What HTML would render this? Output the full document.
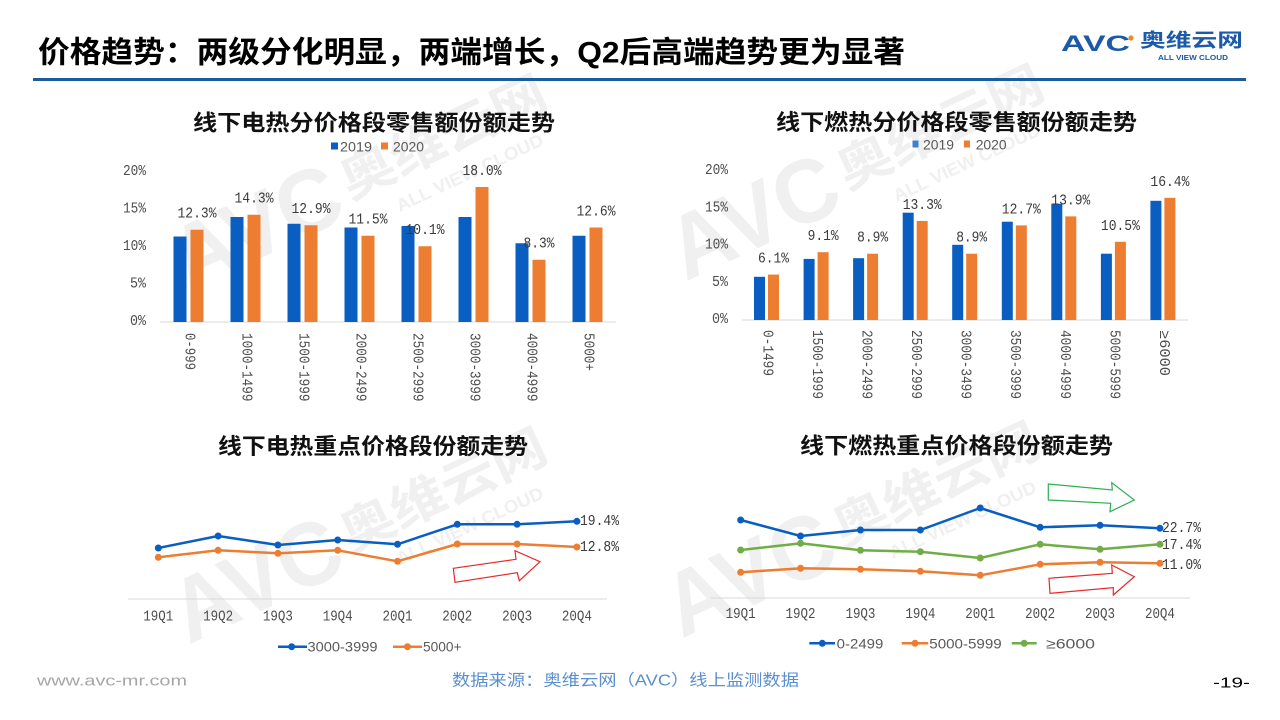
<!DOCTYPE html>
<html>
<head>
<meta charset="utf-8">
<style>
html,body{margin:0;padding:0;background:#fff;}
body{width:1280px;height:720px;overflow:hidden;}
svg{display:block;}
.cjk{font-family:"Liberation Sans","Noto Sans CJK SC",sans-serif;}
.mono{font-family:"Liberation Mono","DejaVu Sans Mono",monospace;}
.sans{font-family:"Liberation Sans","DejaVu Sans",sans-serif;}
</style>
</head>
<body>
<svg width="1280" height="720" viewBox="0 0 1280 720" xmlns="http://www.w3.org/2000/svg">
<rect width="1280" height="720" fill="#fff"/>

<!-- Watermarks (behind) -->
<g opacity="0.32" fill="#cfcfcf" font-weight="bold">
<g transform="translate(350,200) rotate(-25)">
<text class="sans" x="-185" y="15" font-size="90" textLength="178" lengthAdjust="spacingAndGlyphs">AVC</text>
<text class="cjk" x="0" y="0" font-size="50" textLength="222" lengthAdjust="spacingAndGlyphs">奥维云网</text>
<text class="sans" x="40" y="32" font-size="18" textLength="160" lengthAdjust="spacingAndGlyphs">ALL VIEW CLOUD</text>
</g>
<g transform="translate(847,190) rotate(-25)">
<text class="sans" x="-185" y="15" font-size="90" textLength="178" lengthAdjust="spacingAndGlyphs">AVC</text>
<text class="cjk" x="0" y="0" font-size="50" textLength="222" lengthAdjust="spacingAndGlyphs">奥维云网</text>
<text class="sans" x="40" y="32" font-size="18" textLength="160" lengthAdjust="spacingAndGlyphs">ALL VIEW CLOUD</text>
</g>
<g transform="translate(350,553) rotate(-25)">
<text class="sans" x="-185" y="15" font-size="90" textLength="178" lengthAdjust="spacingAndGlyphs">AVC</text>
<text class="cjk" x="0" y="0" font-size="50" textLength="222" lengthAdjust="spacingAndGlyphs">奥维云网</text>
<text class="sans" x="40" y="32" font-size="18" textLength="160" lengthAdjust="spacingAndGlyphs">ALL VIEW CLOUD</text>
</g>
<g transform="translate(843,547) rotate(-25)">
<text class="sans" x="-185" y="15" font-size="90" textLength="178" lengthAdjust="spacingAndGlyphs">AVC</text>
<text class="cjk" x="0" y="0" font-size="50" textLength="222" lengthAdjust="spacingAndGlyphs">奥维云网</text>
<text class="sans" x="40" y="32" font-size="18" textLength="160" lengthAdjust="spacingAndGlyphs">ALL VIEW CLOUD</text>
</g>
</g>

<!-- Header -->
<text class="cjk" x="38" y="53" font-size="30" font-weight="bold" fill="#000" dominant-baseline="central" textLength="867" lengthAdjust="spacingAndGlyphs">价格趋势：两级分化明显，两端增长，Q2后高端趋势更为显著</text>
<rect x="33" y="78" width="1213" height="3" fill="#1d5b9f"/>
<!-- Logo -->
<text class="sans" x="1061" y="51" font-size="22" font-weight="bold" fill="#1a5aa8" textLength="69" lengthAdjust="spacingAndGlyphs">AVC</text>
<circle cx="1131" cy="38" r="2.6" fill="#f08a24"/>
<text class="cjk" x="1140" y="41" font-size="19" font-weight="bold" fill="#1a5aa8" dominant-baseline="central" textLength="103" lengthAdjust="spacingAndGlyphs">奥维云网</text>
<text class="sans" x="1158" y="58.5" font-size="7" font-weight="bold" fill="#1a5aa8" dominant-baseline="central" textLength="70" lengthAdjust="spacingAndGlyphs">ALL VIEW CLOUD</text>

<!-- Top-left chart -->
<text class="cjk" x="374" y="123" font-size="22" font-weight="bold" fill="#111" text-anchor="middle" dominant-baseline="central" textLength="362" lengthAdjust="spacingAndGlyphs">线下电热分价格段零售额份额走势</text>
<rect x="331" y="142.5" width="7" height="7" fill="#0a5ec2"/>
<text class="sans" x="340" y="146.5" font-size="14" fill="#595959" dominant-baseline="central" textLength="32" lengthAdjust="spacingAndGlyphs">2019</text>
<rect x="381" y="142.5" width="7" height="7" fill="#ed7d31"/>
<text class="sans" x="393" y="146.5" font-size="14" fill="#595959" dominant-baseline="central" textLength="31" lengthAdjust="spacingAndGlyphs">2020</text>
<g class="mono" font-size="14.5" fill="#4d4d4d" text-anchor="end" dominant-baseline="central">
<text x="146" y="322" textLength="16" lengthAdjust="spacingAndGlyphs">0%</text>
<text x="146" y="284.5" textLength="16" lengthAdjust="spacingAndGlyphs">5%</text>
<text x="146" y="247" textLength="23" lengthAdjust="spacingAndGlyphs">10%</text>
<text x="146" y="209.5" textLength="23" lengthAdjust="spacingAndGlyphs">15%</text>
<text x="146" y="172" textLength="23" lengthAdjust="spacingAndGlyphs">20%</text>
</g>
<line x1="160" y1="322" x2="616" y2="322" stroke="#d9d9d9" stroke-width="1"/>
<g>
<rect x="173.5" y="236.5" width="13" height="85.5" fill="#0a5ec2"/>
<rect x="190.5" y="229.75" width="13" height="92.25" fill="#ed7d31"/>
<rect x="230.5" y="217" width="13" height="105" fill="#0a5ec2"/>
<rect x="247.5" y="214.75" width="13" height="107.25" fill="#ed7d31"/>
<rect x="287.5" y="223.75" width="13" height="98.25" fill="#0a5ec2"/>
<rect x="304.5" y="225.25" width="13" height="96.75" fill="#ed7d31"/>
<rect x="344.5" y="227.5" width="13" height="94.5" fill="#0a5ec2"/>
<rect x="361.5" y="235.75" width="13" height="86.25" fill="#ed7d31"/>
<rect x="401.5" y="226" width="13" height="96" fill="#0a5ec2"/>
<rect x="418.5" y="246.25" width="13" height="75.75" fill="#ed7d31"/>
<rect x="458.5" y="217" width="13" height="105" fill="#0a5ec2"/>
<rect x="475.5" y="187" width="13" height="135" fill="#ed7d31"/>
<rect x="515.5" y="243.25" width="13" height="78.75" fill="#0a5ec2"/>
<rect x="532.5" y="259.75" width="13" height="62.25" fill="#ed7d31"/>
<rect x="572.5" y="235.75" width="13" height="86.25" fill="#0a5ec2"/>
<rect x="589.5" y="227.5" width="13" height="94.5" fill="#ed7d31"/>
</g>
<g class="mono" font-size="15" fill="#3a3a3a" text-anchor="middle" dominant-baseline="central">
<text x="197" y="214.2" textLength="39" lengthAdjust="spacingAndGlyphs">12.3%</text>
<text x="254" y="199.2" textLength="39" lengthAdjust="spacingAndGlyphs">14.3%</text>
<text x="311" y="209.7" textLength="39" lengthAdjust="spacingAndGlyphs">12.9%</text>
<text x="368" y="220.2" textLength="39" lengthAdjust="spacingAndGlyphs">11.5%</text>
<text x="425" y="230.7" textLength="39" lengthAdjust="spacingAndGlyphs">10.1%</text>
<text x="482" y="171.5" textLength="39" lengthAdjust="spacingAndGlyphs">18.0%</text>
<text x="539" y="244.2" textLength="31" lengthAdjust="spacingAndGlyphs">8.3%</text>
<text x="596" y="212" textLength="39" lengthAdjust="spacingAndGlyphs">12.6%</text>
</g>
<g class="mono" font-size="14.5" fill="#4d4d4d" dominant-baseline="central">
<text transform="translate(188.5,333) rotate(90)" textLength="37" lengthAdjust="spacingAndGlyphs">0-999</text>
<text transform="translate(245.5,333) rotate(90)" textLength="68.5" lengthAdjust="spacingAndGlyphs">1000-1499</text>
<text transform="translate(302.5,333) rotate(90)" textLength="68.5" lengthAdjust="spacingAndGlyphs">1500-1999</text>
<text transform="translate(359.5,333) rotate(90)" textLength="68.5" lengthAdjust="spacingAndGlyphs">2000-2499</text>
<text transform="translate(416.5,333) rotate(90)" textLength="68.5" lengthAdjust="spacingAndGlyphs">2500-2999</text>
<text transform="translate(473.5,333) rotate(90)" textLength="68.5" lengthAdjust="spacingAndGlyphs">3000-3999</text>
<text transform="translate(530.5,333) rotate(90)" textLength="68.5" lengthAdjust="spacingAndGlyphs">4000-4999</text>
<text transform="translate(587.5,333) rotate(90)" textLength="38" lengthAdjust="spacingAndGlyphs">5000+</text>
</g>

<!-- Top-right chart -->
<text class="cjk" x="956.5" y="122.7" font-size="22" font-weight="bold" fill="#111" text-anchor="middle" dominant-baseline="central" textLength="361" lengthAdjust="spacingAndGlyphs">线下燃热分价格段零售额份额走势</text>
<rect x="912.5" y="140.5" width="6" height="7" fill="#3f7fd0"/>
<text class="sans" x="923" y="144.3" font-size="14" fill="#595959" dominant-baseline="central" textLength="31" lengthAdjust="spacingAndGlyphs">2019</text>
<rect x="964" y="140.5" width="6" height="7" fill="#ed7d31"/>
<text class="sans" x="975.7" y="144.3" font-size="14" fill="#595959" dominant-baseline="central" textLength="31" lengthAdjust="spacingAndGlyphs">2020</text>
<g class="mono" font-size="14.5" fill="#4d4d4d" text-anchor="end" dominant-baseline="central">
<text x="728" y="320" textLength="16" lengthAdjust="spacingAndGlyphs">0%</text>
<text x="728" y="282.75" textLength="16" lengthAdjust="spacingAndGlyphs">5%</text>
<text x="728" y="245.5" textLength="23" lengthAdjust="spacingAndGlyphs">10%</text>
<text x="728" y="208.25" textLength="23" lengthAdjust="spacingAndGlyphs">15%</text>
<text x="728" y="171" textLength="23" lengthAdjust="spacingAndGlyphs">20%</text>
</g>
<line x1="742" y1="320" x2="1188" y2="320" stroke="#d9d9d9" stroke-width="1"/>
<g>
<rect x="754" y="276.8" width="11" height="43.2" fill="#0a5ec2"/>
<rect x="768" y="274.6" width="11" height="45.4" fill="#ed7d31"/>
<rect x="803.6" y="258.9" width="11" height="61.1" fill="#0a5ec2"/>
<rect x="817.6" y="252.2" width="11" height="67.8" fill="#ed7d31"/>
<rect x="853.1" y="258.2" width="11" height="61.8" fill="#0a5ec2"/>
<rect x="867.1" y="253.7" width="11" height="66.3" fill="#ed7d31"/>
<rect x="902.7" y="212.7" width="11" height="107.3" fill="#0a5ec2"/>
<rect x="916.7" y="220.9" width="11" height="99.1" fill="#ed7d31"/>
<rect x="952.2" y="244.8" width="11" height="75.2" fill="#0a5ec2"/>
<rect x="966.2" y="253.7" width="11" height="66.3" fill="#ed7d31"/>
<rect x="1001.8" y="221.7" width="11" height="98.3" fill="#0a5ec2"/>
<rect x="1015.8" y="225.4" width="11" height="94.6" fill="#ed7d31"/>
<rect x="1051.3" y="203.8" width="11" height="116.2" fill="#0a5ec2"/>
<rect x="1065.3" y="216.4" width="11" height="103.6" fill="#ed7d31"/>
<rect x="1100.9" y="253.7" width="11" height="66.3" fill="#0a5ec2"/>
<rect x="1114.9" y="241.8" width="11" height="78.2" fill="#ed7d31"/>
<rect x="1150.4" y="200.8" width="11" height="119.2" fill="#0a5ec2"/>
<rect x="1164.4" y="197.8" width="11" height="122.2" fill="#ed7d31"/>
</g>
<g class="mono" font-size="15" fill="#3a3a3a" text-anchor="middle" dominant-baseline="central">
<text x="773.5" y="259.1" textLength="31" lengthAdjust="spacingAndGlyphs">6.1%</text>
<text x="823.1" y="236.7" textLength="31" lengthAdjust="spacingAndGlyphs">9.1%</text>
<text x="872.6" y="238.2" textLength="31" lengthAdjust="spacingAndGlyphs">8.9%</text>
<text x="922.2" y="205.4" textLength="39" lengthAdjust="spacingAndGlyphs">13.3%</text>
<text x="971.7" y="238.2" textLength="31" lengthAdjust="spacingAndGlyphs">8.9%</text>
<text x="1021.3" y="209.9" textLength="39" lengthAdjust="spacingAndGlyphs">12.7%</text>
<text x="1070.8" y="200.9" textLength="39" lengthAdjust="spacingAndGlyphs">13.9%</text>
<text x="1120.4" y="226.3" textLength="39" lengthAdjust="spacingAndGlyphs">10.5%</text>
<text x="1169.9" y="182.3" textLength="39" lengthAdjust="spacingAndGlyphs">16.4%</text>
</g>
<g class="mono" font-size="14.5" fill="#4d4d4d" dominant-baseline="central">
<text transform="translate(766.5,330) rotate(90)" textLength="46" lengthAdjust="spacingAndGlyphs">0-1499</text>
<text transform="translate(816,330) rotate(90)" textLength="69" lengthAdjust="spacingAndGlyphs">1500-1999</text>
<text transform="translate(865.6,330) rotate(90)" textLength="69" lengthAdjust="spacingAndGlyphs">2000-2499</text>
<text transform="translate(915.1,330) rotate(90)" textLength="69" lengthAdjust="spacingAndGlyphs">2500-2999</text>
<text transform="translate(964.7,330) rotate(90)" textLength="69" lengthAdjust="spacingAndGlyphs">3000-3499</text>
<text transform="translate(1014.2,330) rotate(90)" textLength="69" lengthAdjust="spacingAndGlyphs">3500-3999</text>
<text transform="translate(1063.8,330) rotate(90)" textLength="69" lengthAdjust="spacingAndGlyphs">4000-4999</text>
<text transform="translate(1113.3,330) rotate(90)" textLength="69" lengthAdjust="spacingAndGlyphs">5000-5999</text>
<text transform="translate(1162.9,330) rotate(90)" textLength="46" lengthAdjust="spacingAndGlyphs">≥6000</text>
</g>

<!-- Bottom-left chart -->
<text class="cjk" x="373" y="446.7" font-size="22" font-weight="bold" fill="#111" text-anchor="middle" dominant-baseline="central" textLength="310" lengthAdjust="spacingAndGlyphs">线下电热重点价格段份额走势</text>
<line x1="128" y1="599" x2="607" y2="599" stroke="#d9d9d9" stroke-width="1"/>
<polyline points="158.3,557.3 218.1,550.3 277.9,553.3 337.7,550.3 397.5,561.3 457.3,544 517.1,544 576.9,547" fill="none" stroke="#ed7d31" stroke-width="2.5" stroke-linejoin="round"/>
<g fill="#ed7d31">
<circle cx="158.3" cy="557.3" r="3.5"/><circle cx="218.1" cy="550.3" r="3.5"/><circle cx="277.9" cy="553.3" r="3.5"/><circle cx="337.7" cy="550.3" r="3.5"/><circle cx="397.5" cy="561.3" r="3.5"/><circle cx="457.3" cy="544" r="3.5"/><circle cx="517.1" cy="544" r="3.5"/><circle cx="576.9" cy="547" r="3.5"/>
</g>
<polyline points="158.3,548 218.1,536 277.9,545 337.7,540 397.5,544.3 457.3,524.3 517.1,524.3 576.9,521.3" fill="none" stroke="#0a5ec2" stroke-width="2.5" stroke-linejoin="round"/>
<g fill="#0a5ec2">
<circle cx="158.3" cy="548" r="3.5"/><circle cx="218.1" cy="536" r="3.5"/><circle cx="277.9" cy="545" r="3.5"/><circle cx="337.7" cy="540" r="3.5"/><circle cx="397.5" cy="544.3" r="3.5"/><circle cx="457.3" cy="524.3" r="3.5"/><circle cx="517.1" cy="524.3" r="3.5"/><circle cx="576.9" cy="521.3" r="3.5"/>
</g>
<g class="mono" font-size="15" fill="#3a3a3a" dominant-baseline="central">
<text x="580" y="521.7" textLength="39" lengthAdjust="spacingAndGlyphs">19.4%</text>
<text x="580" y="547.7" textLength="39" lengthAdjust="spacingAndGlyphs">12.8%</text>
</g>
<polygon points="453.3,568.3 516,559.3 515,550.7 540,561.7 519.3,580.7 517.3,572.7 455,582.3" fill="none" stroke="#e8282a" stroke-width="1.2"/>
<g class="mono" font-size="14.5" fill="#4d4d4d" text-anchor="middle" dominant-baseline="central">
<text x="158.3" y="617.3" textLength="30" lengthAdjust="spacingAndGlyphs">19Q1</text><text x="218.1" y="617.3" textLength="30" lengthAdjust="spacingAndGlyphs">19Q2</text><text x="277.9" y="617.3" textLength="30" lengthAdjust="spacingAndGlyphs">19Q3</text><text x="337.7" y="617.3" textLength="30" lengthAdjust="spacingAndGlyphs">19Q4</text>
<text x="397.5" y="617.3" textLength="30" lengthAdjust="spacingAndGlyphs">20Q1</text><text x="457.3" y="617.3" textLength="30" lengthAdjust="spacingAndGlyphs">20Q2</text><text x="517.1" y="617.3" textLength="30" lengthAdjust="spacingAndGlyphs">20Q3</text><text x="576.9" y="617.3" textLength="30" lengthAdjust="spacingAndGlyphs">20Q4</text>
</g>
<line x1="278" y1="646.7" x2="307" y2="646.7" stroke="#0a5ec2" stroke-width="2.5"/>
<circle cx="291.7" cy="646.7" r="3.5" fill="#0a5ec2"/>
<text class="sans" x="307.5" y="646.7" font-size="14" fill="#595959" dominant-baseline="central" textLength="70" lengthAdjust="spacingAndGlyphs">3000-3999</text>
<line x1="393" y1="646.7" x2="422" y2="646.7" stroke="#ed7d31" stroke-width="2.5"/>
<circle cx="407.5" cy="646.7" r="3.5" fill="#ed7d31"/>
<text class="sans" x="423" y="646.7" font-size="14" fill="#595959" dominant-baseline="central" textLength="38.5" lengthAdjust="spacingAndGlyphs">5000+</text>

<!-- Bottom-right chart -->
<text class="cjk" x="956.5" y="446" font-size="22" font-weight="bold" fill="#111" text-anchor="middle" dominant-baseline="central" textLength="313" lengthAdjust="spacingAndGlyphs">线下燃热重点价格段份额走势</text>
<line x1="710.7" y1="598" x2="1190" y2="598" stroke="#d9d9d9" stroke-width="1"/>
<polyline points="740.65,572.3 800.55,568.3 860.45,569.3 920.35,571.3 980.25,575.3 1040.15,564.3 1100.05,562.3 1159.95,563.3" fill="none" stroke="#ed7d31" stroke-width="2.5" stroke-linejoin="round"/>
<g fill="#ed7d31">
<circle cx="740.65" cy="572.3" r="3.5"/><circle cx="800.55" cy="568.3" r="3.5"/><circle cx="860.45" cy="569.3" r="3.5"/><circle cx="920.35" cy="571.3" r="3.5"/><circle cx="980.25" cy="575.3" r="3.5"/><circle cx="1040.15" cy="564.3" r="3.5"/><circle cx="1100.05" cy="562.3" r="3.5"/><circle cx="1159.95" cy="563.3" r="3.5"/>
</g>
<polyline points="740.65,550 800.55,543.3 860.45,550.3 920.35,551.7 980.25,558 1040.15,544.3 1100.05,549.3 1159.95,544.3" fill="none" stroke="#70ad47" stroke-width="2.5" stroke-linejoin="round"/>
<g fill="#70ad47">
<circle cx="740.65" cy="550" r="3.5"/><circle cx="800.55" cy="543.3" r="3.5"/><circle cx="860.45" cy="550.3" r="3.5"/><circle cx="920.35" cy="551.7" r="3.5"/><circle cx="980.25" cy="558" r="3.5"/><circle cx="1040.15" cy="544.3" r="3.5"/><circle cx="1100.05" cy="549.3" r="3.5"/><circle cx="1159.95" cy="544.3" r="3.5"/>
</g>
<polyline points="740.65,520 800.55,536 860.45,530 920.35,530 980.25,508 1040.15,527.3 1100.05,525.3 1159.95,528.3" fill="none" stroke="#0a5ec2" stroke-width="2.5" stroke-linejoin="round"/>
<g fill="#0a5ec2">
<circle cx="740.65" cy="520" r="3.5"/><circle cx="800.55" cy="536" r="3.5"/><circle cx="860.45" cy="530" r="3.5"/><circle cx="920.35" cy="530" r="3.5"/><circle cx="980.25" cy="508" r="3.5"/><circle cx="1040.15" cy="527.3" r="3.5"/><circle cx="1100.05" cy="525.3" r="3.5"/><circle cx="1159.95" cy="528.3" r="3.5"/>
</g>
<g class="mono" font-size="15" fill="#3a3a3a" dominant-baseline="central">
<text x="1162" y="528.7" textLength="39" lengthAdjust="spacingAndGlyphs">22.7%</text>
<text x="1162" y="545.3" textLength="39" lengthAdjust="spacingAndGlyphs">17.4%</text>
<text x="1162" y="565.3" textLength="39" lengthAdjust="spacingAndGlyphs">11.0%</text>
</g>
<polygon points="1048.3,484 1112.3,490 1111.7,482.7 1134.3,500 1110,511.7 1110.7,503.3 1048.3,500" fill="none" stroke="#2fae52" stroke-width="1.2"/>
<polygon points="1049,578.3 1112.3,573.3 1111.7,565 1134.3,576.7 1113.3,595 1113.3,587.7 1050,593.3" fill="none" stroke="#e8282a" stroke-width="1.2"/>
<g class="mono" font-size="14.5" fill="#4d4d4d" text-anchor="middle" dominant-baseline="central">
<text x="740.65" y="615" textLength="30" lengthAdjust="spacingAndGlyphs">19Q1</text><text x="800.55" y="615" textLength="30" lengthAdjust="spacingAndGlyphs">19Q2</text><text x="860.45" y="615" textLength="30" lengthAdjust="spacingAndGlyphs">19Q3</text><text x="920.35" y="615" textLength="30" lengthAdjust="spacingAndGlyphs">19Q4</text>
<text x="980.25" y="615" textLength="30" lengthAdjust="spacingAndGlyphs">20Q1</text><text x="1040.15" y="615" textLength="30" lengthAdjust="spacingAndGlyphs">20Q2</text><text x="1100.05" y="615" textLength="30" lengthAdjust="spacingAndGlyphs">20Q3</text><text x="1159.95" y="615" textLength="30" lengthAdjust="spacingAndGlyphs">20Q4</text>
</g>
<line x1="809.3" y1="643.3" x2="835" y2="643.3" stroke="#0a5ec2" stroke-width="2.5"/>
<circle cx="822.3" cy="643.3" r="3.5" fill="#0a5ec2"/>
<text class="sans" x="836.7" y="643.3" font-size="14" fill="#595959" dominant-baseline="central" textLength="46.6" lengthAdjust="spacingAndGlyphs">0-2499</text>
<line x1="901.7" y1="643.3" x2="928.3" y2="643.3" stroke="#ed7d31" stroke-width="2.5"/>
<circle cx="915" cy="643.3" r="3.5" fill="#ed7d31"/>
<text class="sans" x="929.3" y="643.3" font-size="14" fill="#595959" dominant-baseline="central" textLength="72.4" lengthAdjust="spacingAndGlyphs">5000-5999</text>
<line x1="1011.7" y1="643.3" x2="1036.7" y2="643.3" stroke="#70ad47" stroke-width="2.5"/>
<circle cx="1024.2" cy="643.3" r="3.5" fill="#70ad47"/>
<text class="sans" x="1046" y="643.3" font-size="14" fill="#595959" dominant-baseline="central" textLength="49" lengthAdjust="spacingAndGlyphs">≥6000</text>

<!-- Footer -->
<text class="sans" x="37" y="681" font-size="15" fill="#a6a6a6" dominant-baseline="central" textLength="150" lengthAdjust="spacingAndGlyphs">www.avc-mr.com</text>
<text class="cjk" x="452" y="681" font-size="16" fill="#5b8fcf" dominant-baseline="central" textLength="347" lengthAdjust="spacingAndGlyphs">数据来源：奥维云网（AVC）线上监测数据</text>
<text class="sans" x="1213" y="683" font-size="15" fill="#000" dominant-baseline="central" textLength="37" lengthAdjust="spacingAndGlyphs">-19-</text>
</svg>
</body>
</html>
